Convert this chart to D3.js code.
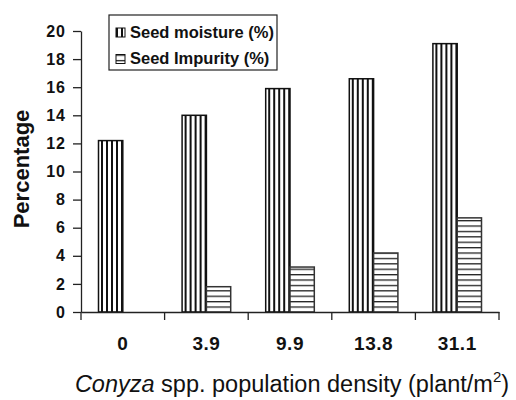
<!DOCTYPE html>
<html>
<head>
<meta charset="utf-8">
<script src="https://cdn.jsdelivr.net/npm/d3@7"></script>
<style>
  body { margin: 0; background: #fff; }
  svg { font-family: "Liberation Sans", Arial, sans-serif; }
</style>
</head>
<body>
<script>
// data
var densities = ["0", "3.9", "9.9", "13.8", "31.1"];
var seedMoisture = [12.2, 14.0, 15.9, 16.6, 19.1];
var seedImpurity = [0, 1.8, 3.2, 4.2, 6.7];
var yTicks = [0, 2, 4, 6, 8, 10, 12, 14, 16, 18, 20];
var seriesNames = ["Seed moisture (%)", "Seed Impurity (%)"];

var width = 516, height = 400;
var margin = { top: 31, right: 17, bottom: 88, left: 81 };
var graph_width = width - margin.left - margin.right;
var graph_height = height - margin.top - margin.bottom;

var svg = d3.select("body").append("svg")
    .attr("width", width)
    .attr("height", height);

// hatch patterns
var defs = svg.append("defs");
var pv = defs.append("pattern")
    .attr("id", "vert")
    .attr("patternUnits", "userSpaceOnUse")
    .attr("width", 5).attr("height", 5);
pv.append("rect").attr("width", 5).attr("height", 5).attr("fill", "#fff");
pv.append("rect").attr("x", 0).attr("width", 2).attr("height", 5).attr("fill", "#111");

var ph = defs.append("pattern")
    .attr("id", "horiz")
    .attr("patternUnits", "userSpaceOnUse")
    .attr("width", 5).attr("height", 5.4);
ph.append("rect").attr("width", 5).attr("height", 5.4).attr("fill", "#fff");
ph.append("rect").attr("y", 0).attr("width", 5).attr("height", 1.3).attr("fill", "#222");

var g = svg.append("g")
    .attr("transform", "translate(" + margin.left + "," + margin.top + ")");

var x = d3.scaleBand()
    .domain(densities)
    .range([0, graph_width])
    .paddingInner(0)
    .paddingOuter(0);

var x1 = d3.scaleBand()
    .domain([0, 1])
    .range([17.5, x.bandwidth() - 17.5]);

var y = d3.scaleLinear()
    .domain([0, 20])
    .range([graph_height, 0]);

var rows = densities.map(function (d, i) {
    return { cat: d, vals: [seedMoisture[i], seedImpurity[i]] };
});

var groups = g.selectAll(".grp")
    .data(rows)
    .enter().append("g")
    .attr("class", "grp")
    .attr("transform", function (d) { return "translate(" + x(d.cat) + ",0)"; });

groups.selectAll("rect")
    .data(function (d) { return d.vals.map(function (v, k) { return { k: k, v: v }; }); })
    .enter().append("rect")
    .filter(function (d) { return d.v > 0; })
    .attr("x", function (d) { return x1(d.k); })
    .attr("width", x1.bandwidth())
    .attr("y", function (d) { return y(d.v); })
    .attr("height", function (d) { return graph_height - y(d.v); })
    .attr("fill", function (d) { return d.k === 0 ? "url(#vert)" : "url(#horiz)"; })
    .attr("stroke", function (d) { return d.k === 0 ? "#111" : "#333"; })
    .attr("stroke-width", 1.5);

// y axis
var yAxis = g.append("g")
    .call(d3.axisLeft(y).tickValues(yTicks).tickSize(8).tickSizeOuter(0).tickPadding(7));
// x axis
var xAxis = g.append("g")
    .attr("transform", "translate(0," + graph_height + ")")
    .call(d3.axisBottom(x).tickSize(0).tickPadding(25));

// x ticks at band boundaries
g.append("g").selectAll("line")
    .data(densities.concat(["end"]))
    .enter().append("line")
    .attr("x1", function (d, i) { return i * x.step(); })
    .attr("x2", function (d, i) { return i * x.step(); })
    .attr("y1", graph_height)
    .attr("y2", graph_height + 8)
    .attr("stroke", "#222")
    .attr("stroke-width", 1.3);

[yAxis, xAxis].forEach(function (ax) {
    ax.selectAll("path").attr("stroke", "#222").attr("stroke-width", 1.3);
    ax.selectAll("line").attr("stroke", "#222").attr("stroke-width", 1.3);
    ax.selectAll("text")
        .attr("font-weight", "bold")
        .attr("fill", "#111")
        .attr("font-family", "Liberation Sans, Arial, sans-serif");
});
yAxis.selectAll("text").attr("font-size", 16).attr("letter-spacing", 1);
xAxis.selectAll("text").attr("font-size", 19).attr("letter-spacing", 0.5);

// y title
svg.append("text")
    .attr("transform", "translate(29,169) rotate(-90)")
    .attr("text-anchor", "middle")
    .attr("font-size", 22)
    .attr("font-weight", "bold")
    .attr("fill", "#111")
    .text("Percentage");

// x title
var xt = svg.append("text")
    .attr("x", 292)
    .attr("y", 392)
    .attr("text-anchor", "middle")
    .attr("font-size", 23.5)
    .attr("fill", "#111");
xt.append("tspan").attr("font-style", "italic").text("Conyza");
xt.append("tspan").text(" spp. population density (plant/m");
xt.append("tspan").attr("font-size", 15).attr("dy", -10).text("2");
xt.append("tspan").attr("dy", 10).text(")");

// legend
var leg = svg.append("g").attr("transform", "translate(109,15)");
leg.append("rect")
    .attr("width", 168).attr("height", 55)
    .attr("fill", "#fff").attr("stroke", "#222").attr("stroke-width", 1.2);
var item = leg.selectAll(".item")
    .data(seriesNames)
    .enter().append("g")
    .attr("transform", function (d, i) { return "translate(7," + (13 + i * 26.5) + ")"; });
item.append("rect")
    .attr("width", 9).attr("height", 9)
    .attr("fill", function (d, i) { return i === 0 ? "url(#vert)" : "url(#horiz)"; })
    .attr("stroke", "#111").attr("stroke-width", 1);
item.append("text")
    .attr("x", 14).attr("y", 9.5)
    .attr("font-size", 16.5)
    .attr("font-weight", "bold")
    .attr("fill", "#111")
    .text(function (d) { return d; });
</script>
</body>
</html>
